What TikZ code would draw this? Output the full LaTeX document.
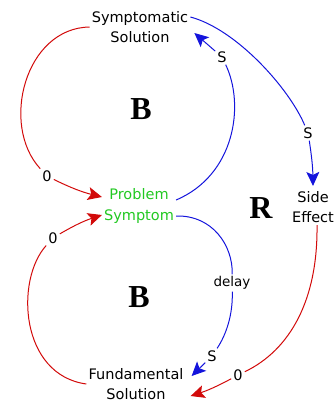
\documentclass[tikz,border=0pt]{standalone}
\usepackage{fontspec}
\usetikzlibrary{arrows.meta,calc}
\newfontfamily\loopfont{DejaVu Sans}
\newfontfamily\signfont{Liberation Serif}
\definecolor{looped}{HTML}{D20A0A}
\definecolor{loopblue}{HTML}{1414DC}
\definecolor{loopgreen}{HTML}{22C822}
\tikzset{
  var/.style={align=center, font=\loopfont\fontsize{14.5}{20.5}\selectfont,
              inner sep=2pt},
  pol/.style={font=\loopfont\fontsize{14.5}{16}\selectfont, inner sep=2pt},
  dlabel/.style={font=\loopfont\fontsize{13.5}{15}\selectfont, inner sep=2pt},
  loopsign/.style={font=\signfont\bfseries\fontsize{32}{32}\selectfont},
  redlink/.style={draw=looped, line width=1pt},
  bluelink/.style={draw=loopblue, line width=1pt},
  tip/.style={-{Stealth[length=14pt,width=13pt,inset=3pt]}},
}
\begin{document}
\begin{tikzpicture}[x=1pt, y=-1pt]
  \useasboundingbox (0,0) rectangle (336,405);
  \clip (0,0) rectangle (336,405);
  % --- variables ---
  \node[var] (sympt) at (140, 27) {Symptomatic\\Solution};
  \node[var, text=loopgreen] (prob) at (139,206) {Problem\\Symptom};
  \node[var] (side) at (313,207) {Side\\Effect};
  \node[var] (fund) at (136,384) {Fundamental\\Solution};

  % --- loop markers ---
  \node[loopsign] (b1) at (141,109) {B};
  \node[loopsign] (b2) at (139,297) {B};
  \node[loopsign] (r1) at (261,208) {R};

  % --- polarity labels ---
  \node[pol] (o1) at ( 47,176) {0};
  \node[pol] (o2) at ( 53,238) {0};
  \node[pol] (o3) at (238,375) {0};
  \node[pol] (s1) at (222, 57) {S};
  \node[pol] (s2) at (308,133) {S};
  \node[pol] (s3) at (212,356) {S};
  \node[dlabel] (dl) at (232,283) {delay};

  % --- balancing loop, symptomatic ---
  \draw[redlink] (sympt.west) .. controls (25,28) and (0,125) .. (o1);
  \draw[redlink, tip] (o1) to[bend right=6] ([yshift=9pt]prob.west);
  \draw[bluelink] ([yshift=6pt]prob.east) .. controls (235,175) and (245,105) .. (s1);
  \draw[bluelink, tip] (s1) -- ([xshift=4pt,yshift=-6pt]sympt.east);

  % --- reinforcing loop, side effect ---
  \draw[bluelink] ([yshift=10pt]sympt.east) .. controls (236,29) and (289,88) .. (s2);
  \draw[bluelink, tip] (s2) to[bend left=4] ([yshift=3pt]side.north);
  \draw[redlink] ([xshift=4pt]side.south) .. controls (318,300) and (290,350) .. (o3);
  \draw[redlink, tip] (o3) to[bend left=5] ([xshift=5pt,yshift=-12pt]fund.east);

  % --- balancing loop, fundamental ---
  \draw[bluelink] ([yshift=-10pt]prob.east) .. controls (212,215) and (233,245) .. (dl);
  \draw[bluelink] (dl) .. controls (233,315) and (226,335) .. (s3);
  \draw[bluelink, tip] (s3) -- ([xshift=6pt,yshift=8pt]fund.east);
  \draw[redlink] (fund.west) .. controls (20,375) and (15,280) .. (o2);
  \draw[redlink, tip] (o2) to[bend left=6] ([yshift=-9pt]prob.west);
\end{tikzpicture}
\end{document}
